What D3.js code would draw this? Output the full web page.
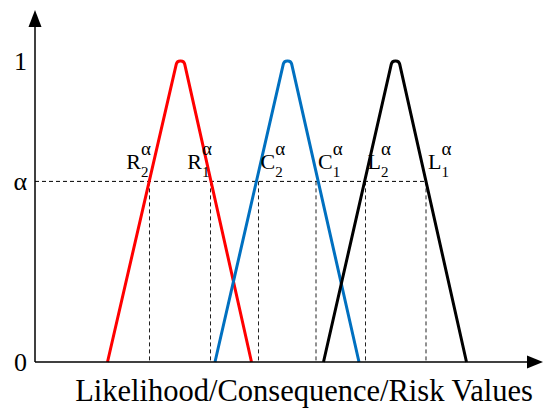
<!DOCTYPE html>
<html>
<head>
<meta charset="utf-8">
<script src="https://cdn.jsdelivr.net/npm/d3@7"></script>
<style>
  body { margin: 0; background: #fff; }
  text { font-family: "Liberation Serif", "DejaVu Serif", serif; fill: #000; }
</style>
</head>
<body>
<script>
// fuzzy numbers: [left foot, left shoulder, right shoulder, right foot]
var riskNum = [14.5, 28.4, 29.8, 43.3];
var consNum = [36.0, 49.8, 51.2, 64.8];
var likeNum = [57.7, 71.4, 72.8, 86.3];
var alphaLevel = 0.6;
// alpha-cut points, left to right
var cutValues = [22.9, 35.1, 44.7, 56.2, 66.1, 78.2];
var cutNames = ["R", "R", "C", "C", "L", "L"];
var cutSubs = ["2", "1", "2", "1", "2", "1"];
var yTickValues = [0, alphaLevel, 1];
var yTickLabels = ["0", "\u03b1", "1"];
var xTitle = "Likelihood/Consequence/Risk Values";

var W = 543, H = 409;
var x = d3.scaleLinear().domain([0, 100]).range([35, 535]);
var y = d3.scaleLinear().domain([0, 1]).range([362, 61]);

var svg = d3.select("body").append("svg")
    .attr("width", W)
    .attr("height", H);

// dashed alpha-cut guides
svg.append("line")
    .attr("x1", x(0)).attr("x2", x(d3.max(cutValues)))
    .attr("y1", y(alphaLevel)).attr("y2", y(alphaLevel))
    .attr("stroke", "#000").attr("stroke-width", 1)
    .attr("stroke-dasharray", "4,3");

svg.selectAll(".cut")
    .data(cutValues)
    .enter().append("line")
    .attr("class", "cut")
    .attr("x1", d => x(d)).attr("x2", d => x(d))
    .attr("y1", y(alphaLevel)).attr("y2", y(0))
    .attr("stroke", "#222").attr("stroke-width", 1)
    .attr("stroke-dasharray", "4,3");

// trapezoid with rounded top
function shape(d) {
    var p = d3.path(), r = 4;
    p.moveTo(x(d[0]), y(0));
    p.arcTo(x(d[1]), y(1), x(d[2]), y(1), r);
    p.arcTo(x(d[2]), y(1), x(d[3]), y(0), r);
    p.lineTo(x(d[3]), y(0));
    return p.toString();
}

var series = [
    {v: riskNum, c: "#ff0000"},
    {v: consNum, c: "#0070c0"},
    {v: likeNum, c: "#000000"}
];
svg.selectAll(".fz")
    .data(series)
    .enter().append("path")
    .attr("class", "fz")
    .attr("d", d => shape(d.v))
    .attr("fill", "none")
    .attr("stroke", d => d.c)
    .attr("stroke-width", 3)
    .attr("stroke-linejoin", "round");

// axes
var yAxis = d3.axisLeft(y)
    .tickValues(yTickValues)
    .tickFormat((d, i) => yTickLabels[i])
    .tickSize(0)
    .tickPadding(8);
var gy = svg.append("g")
    .attr("transform", "translate(" + x(0) + ",0)")
    .call(yAxis);
gy.select(".domain").remove();
gy.selectAll("text")
    .attr("fill", "#000")
    .style("font-family", "'Liberation Serif', 'DejaVu Serif', serif")
    .style("font-size", "26px");

svg.append("line")
    .attr("x1", x(0)).attr("x2", x(0))
    .attr("y1", y(0)).attr("y2", 20)
    .attr("stroke", "#000").attr("stroke-width", 1.5);
svg.append("path")
    .attr("d", "M" + x(0) + ",10L" + (x(0) - 6.5) + ",27L" + (x(0) + 6.5) + ",27Z")
    .attr("fill", "#000");

svg.append("line")
    .attr("x1", x(0)).attr("x2", W - 10)
    .attr("y1", y(0)).attr("y2", y(0))
    .attr("stroke", "#000").attr("stroke-width", 1.5);
svg.append("path")
    .attr("d", "M" + W + "," + y(0) + "L" + (W - 16) + "," + (y(0) - 6.5) + "L" + (W - 16) + "," + (y(0) + 6.5) + "Z")
    .attr("fill", "#000");

svg.append("text")
    .attr("x", 304)
    .attr("y", 401)
    .attr("text-anchor", "middle")
    .style("font-size", "30.5px")
    .text(xTitle);

// alpha-cut labels like R_2^alpha
cutValues.forEach(function(v, i) {
    var g = svg.append("g");
    var base = g.append("text").attr("x", 0).attr("y", 0)
        .style("font-size", "22px").text(cutNames[i]);
    var w = base.node().getComputedTextLength();
    var sub = g.append("text").attr("x", w).attr("y", 8)
        .style("font-size", "15px").text(cutSubs[i]);
    g.append("text").attr("x", w).attr("y", -14)
        .style("font-size", "19px").text("\u03b1");
    var total = w + sub.node().getComputedTextLength();
    var gx = i < 2 ? x(v) - total - 1 : x(v) + 2;
    g.attr("transform", "translate(" + gx + "," + 169 + ")");
});
</script>
</body>
</html>
